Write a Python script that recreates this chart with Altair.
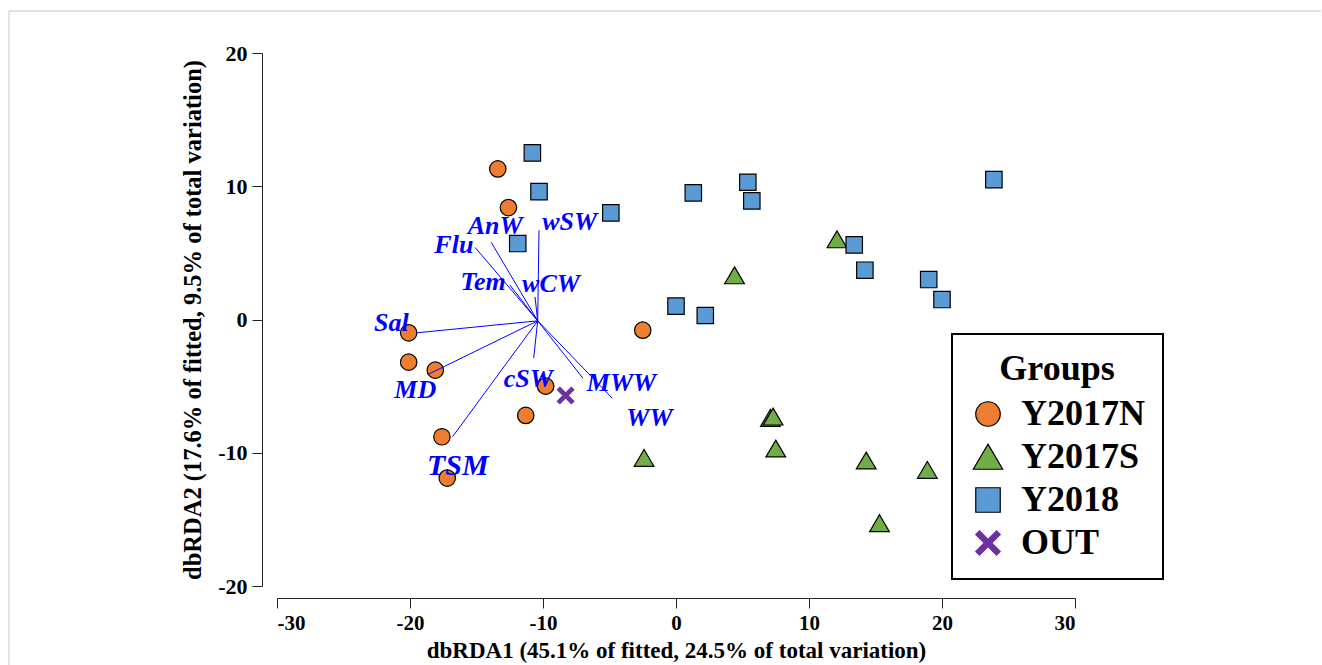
import altair as alt
import pandas as pd

# ---- sample scores ----
groups = ["Y2017N", "Y2017S", "Y2018", "OUT"]
colors = ["#ED7D31", "#70AD47", "#5B9BD5", "#7030A0"]

n_x = [-13.4, -12.6, -20.1, -20.1, -18.1, -9.8, -11.3, -17.6, -17.2, -2.5]
n_y = [11.3, 8.4, -1.0, -3.2, -3.8, -5.0, -7.2, -8.8, -11.9, -0.8]

s_x = [12.1, 4.4, 7.1, 7.3, 7.5, -2.4, 14.3, 18.9, 15.3]
s_y = [6.0, 3.3, -7.4, -7.3, -9.7, -10.4, -10.6, -11.3, -15.3]

y18_x = [-10.8, -10.3, -11.9, -4.9, 1.3, 5.4, 5.7, 23.9, 13.4, 14.2, 19.0, 20.0, 0.0, 2.2]
y18_y = [12.5, 9.6, 5.7, 8.0, 9.5, 10.3, 8.9, 10.5, 5.6, 3.7, 3.0, 1.5, 1.0, 0.3]

out_x = [-8.3]
out_y = [-5.7]

# ---- environmental vectors ----
vec_origin = (-10.4, -0.1)
vec_names = ["Sal", "MD", "TSM", "Flu", "AnW", "wSW", "Tem", "wCW", "cSW", "MWW", "WW"]
vec_x = [-19.5, -18.6, -16.8, -15.1, -13.9, -10.3, -12.5, -10.6, -10.7, -7.0, -4.8]
vec_y = [-1.0, -4.1, -8.8, 5.4, 5.8, 6.7, 2.6, 1.7, -2.9, -4.4, -5.9]
lab_x = [-21.4, -19.6, -16.4, -16.7, -13.6, -8.0, -14.5, -9.4, -11.1, -4.1, -2.0]
lab_y = [-0.3, -5.3, -11.0, 5.6, 7.0, 7.3, 2.8, 2.7, -4.5, -4.8, -7.4]

x_ticks = [-30, -20, -10, 0, 10, 20, 30]
y_ticks = [-20, -10, 0, 10, 20]

FONT = "Liberation Serif"

rows = []
for g, xs, ys in [("Y2017N", n_x, n_y), ("Y2017S", s_x, s_y),
                  ("Y2018", y18_x, y18_y), ("OUT", out_x, out_y)]:
    for a, b in zip(xs, ys):
        rows.append({"group": g, "x": a, "y": b})
pts = pd.DataFrame(rows)
pts["order"] = range(len(pts))

vec = pd.DataFrame({"name": vec_names, "x": vec_x, "y": vec_y,
                    "lx": lab_x, "ly": lab_y})
vec["x0"] = vec_origin[0]
vec["y0"] = vec_origin[1]

tri = "M0,-1.05L1.2,1.0L-1.2,1.0Z"
xshape = ("M-0.7,-1L0,-0.3L0.7,-1L1,-0.7L0.3,0L1,0.7L0.7,1L0,0.3"
          "L-0.7,1L-1,0.7L-0.3,0L-1,-0.7Z")

xscale = alt.Scale(domain=[-30, 30], nice=False, zero=False)
yscale = alt.Scale(domain=[-20, 20], nice=False, zero=False)

xaxis = alt.Axis(values=x_ticks, title="dbRDA1 (45.1% of fitted, 24.5% of total variation)",
                 offset=12, titlePadding=6, labelFontSize=21, titleFontSize=23,
                 labelExpr="'' + datum.value", labelPadding=4)
yaxis = alt.Axis(values=y_ticks, title="dbRDA2 (17.6% of fitted, 9.5% of total variation)",
                 offset=15, titlePadding=12, labelFontSize=22, titleFontSize=24.5,
                 labelExpr="'' + datum.value", labelPadding=5)

points = alt.Chart(pts).mark_point(filled=True, size=270, strokeWidth=1.2, opacity=1).encode(
    x=alt.X("x:Q", scale=xscale, axis=xaxis),
    y=alt.Y("y:Q", scale=yscale, axis=yaxis),
    fill=alt.Fill("group:N", scale=alt.Scale(domain=groups, range=colors),
                  title="Groups"),
    shape=alt.Shape("group:N", scale=alt.Scale(domain=groups,
                                               range=["circle", tri, "square", xshape]),
                    title="Groups"),
    stroke=alt.Stroke("group:N", scale=alt.Scale(domain=groups,
                                                 range=["black", "black", "black", "#7030A0"]),
                      title="Groups"),
    order="order:Q",
)

lines = alt.Chart(vec).mark_rule(color="#0000FF", strokeWidth=1).encode(
    x="x0:Q", y="y0:Q", x2="x:Q", y2="y:Q"
)

labels = alt.Chart(vec).mark_text(
    font=FONT, fontStyle="italic", fontWeight="bold", color="#0000FF",
    align="center", baseline="middle"
).encode(
    x="lx:Q", y="ly:Q", text="name:N",
    size=alt.condition(alt.datum.name == "TSM", alt.value(30), alt.value(26)),
)

frame_top = alt.Chart(pd.DataFrame({"a": [0]})).mark_rule(color="#c8c8c8", strokeWidth=1).encode(
    x=alt.value(-268), x2=alt.value(1044), y=alt.value(-42)
)
frame_left = alt.Chart(pd.DataFrame({"a": [0]})).mark_rule(color="#c8c8c8", strokeWidth=1).encode(
    x=alt.value(-268), y=alt.value(-42), y2=alt.value(612)
)

chart = alt.layer(frame_top, frame_left, points, lines, labels).properties(
    width=798, height=533,
    padding={"left": 8, "top": 10, "right": 0, "bottom": 0},
).configure_view(stroke=None).configure_axis(
    grid=False, domainColor="#222222", tickColor="#222222", tickSize=10,
    labelFont=FONT, labelFontWeight="bold", labelColor="black",
    titleFont=FONT, titleFontWeight="bold", titleColor="black",
).configure_legend(
    orient="none", legendX=675, legendY=281,
    titleFont=FONT, titleFontSize=36, titleFontWeight="bold", titleColor="black",
    titleAnchor="middle", titlePadding=8,
    labelFont=FONT, labelFontSize=36, labelFontWeight="bold", labelColor="black",
    symbolSize=600, symbolStrokeWidth=1.2, labelOffset=15,
    padding=18, rowPadding=7, strokeColor="black", fillColor="white",
    strokeWidth=2, labelLimit=400,
)

chart.save("out.html", embed_options={"renderer": "svg", "actions": False})
